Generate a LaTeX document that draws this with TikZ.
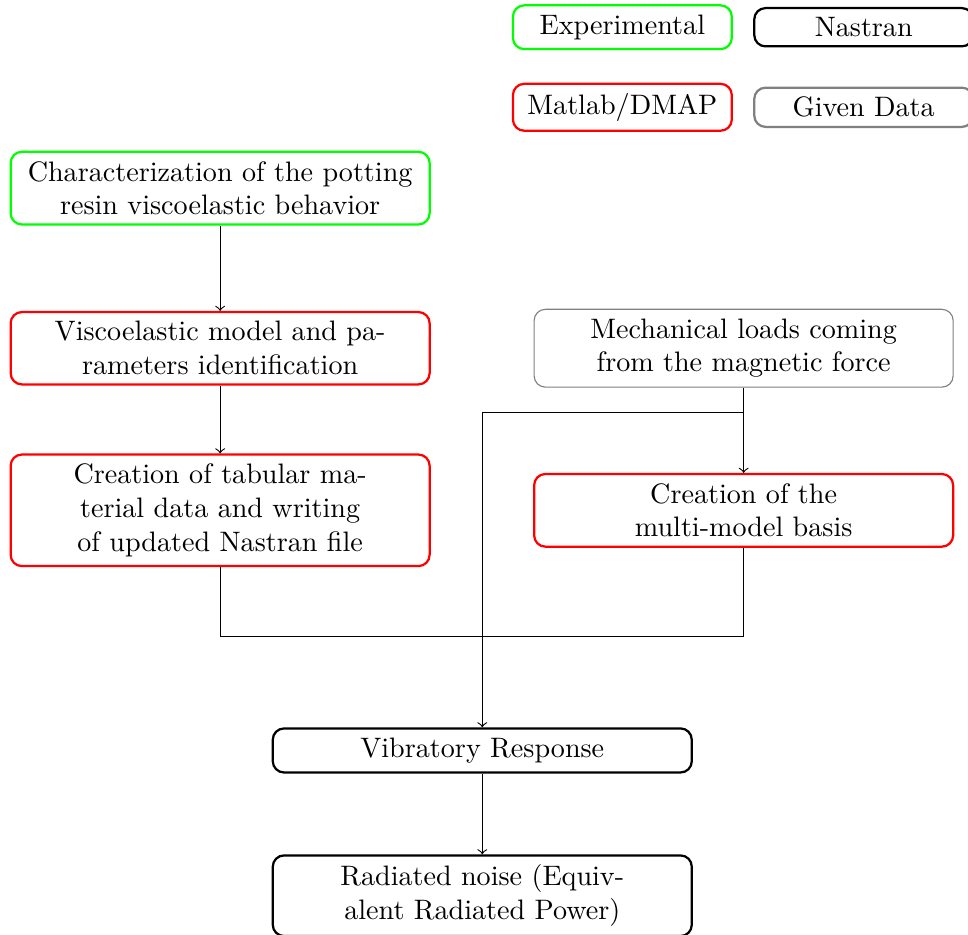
\documentclass[tikz,border=0pt]{standalone}
\begin{document}
\begin{tikzpicture}[block/.style={rectangle, rounded corners, draw, thick, text width=5cm, align=center},
    legend/.style={rectangle, rounded corners, draw, thick, text width=2.5cm, align=center}, >=to]
        \useasboundingbox (0,0) rectangle (12.093,-11.68);
        % legend
        \node[legend, draw=green] (exp) at (7.775, -0.34) {Experimental};
        \node[legend] (nas) at (10.79, -0.34) {Nastran};
        \node[legend, draw=red] (mat) at (7.775, -1.34) {Matlab/DMAP};
        \node[legend, draw=gray] (giv) at (10.79, -1.34) {Given Data};
        % flow
        \node[block, draw=green] (charac) at (2.75, -2.35) {Characterization of the potting resin viscoelastic behavior};
        \node[block, draw=red] (visco) at (2.75, -4.35) {Viscoelastic model and parameters identification};
        \node[block, draw=red] (tab) at (2.75, -6.375) {Creation of tabular material data and writing of updated Nastran file};
        \node[block, draw=gray, thin] (mech) at (9.29, -4.35) {Mechanical loads coming from the magnetic force};
        \node[block, draw=red] (multi) at (9.29, -6.375) {Creation of the\\ multi-model basis};
        \node[block] (vib) at (6.025, -9.375) {Vibratory Response};
        \node[block] (rad) at (6.025, -11.19) {Radiated noise (Equiv\-alent Radiated Power)};
        \coordinate (split) at (9.29, -5.15);
        \coordinate (join) at (6.025, -7.95);
        \draw[->] (charac) -- (visco);
        \draw[->] (visco) -- (tab);
        \draw (mech) -- (split);
        \draw[->] (split) -- (multi);
        \draw[->] (split) -| (vib);
        \draw (tab) |- (join) -| (multi);
        \draw[->] (vib) -- (rad);
    \end{tikzpicture}
\end{document}
